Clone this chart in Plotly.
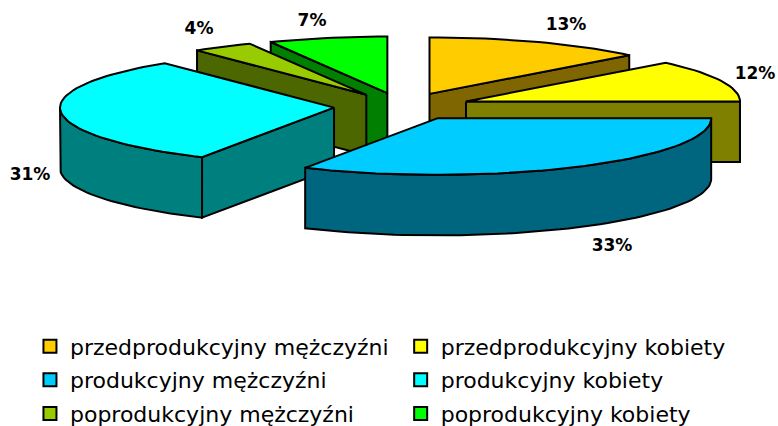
import numpy as np
import plotly.graph_objects as go

# ---- data ----
categories = ["przedprodukcyjny mężczyźni", "przedprodukcyjny kobiety",
              "produkcyjny mężczyźni", "produkcyjny kobiety",
              "poprodukcyjny mężczyźni", "poprodukcyjny kobiety"]
shares = [13, 12, 33, 31.4, 3.6, 7]
colors = ["#FFCC00", "#FFFF00", "#00CCFF", "#00FFFF", "#99CC00", "#00FF00"]

# ---- layout constants (pixel space of the hidden axes) ----
CX, CY = 402.3, 106.5
RX, RY = 274.0, 56.5
EXPLODE = 0.25
DEPTH = 60.5
LABEL_X = [566, 755, 612, 30, 199, 312]
LABEL_Y = [26, 75, 247, 176, 30, 22]
DRAW_ORDER = [0, 5, 4, 1, 3, 2]


def darker(hex_color):
    r, g, b = (int(hex_color[i:i + 2], 16) for i in (1, 3, 5))
    return f"rgb({r // 2},{g // 2},{b // 2})"


def point(apex, deg):
    a = np.radians(deg)
    return apex[0] + RX * np.sin(a), apex[1] - RY * np.cos(a)


def arc(apex, d0, d1):
    degs = np.linspace(d0, d1, max(2, int(abs(d1 - d0) / 2) + 2))
    return point(apex, degs)


def add_poly(fig, xs, ys, fill):
    fig.add_trace(go.Scatter(x=list(xs) + [xs[0]], y=list(ys) + [ys[0]], mode="lines",
                             fill="toself", fillcolor=fill,
                             line=dict(color="black", width=2), showlegend=False,
                             hoverinfo="skip"))


fig = go.Figure()
total = sum(shares)
ends = np.cumsum(shares) / total * 360
starts = ends - np.array(shares) / total * 360

for i in DRAW_ORDER:
    s, e = starts[i], ends[i]
    m = np.radians((s + e) / 2)
    apex = (CX + EXPLODE * RX * np.sin(m), CY - EXPLODE * 55.0 * np.cos(m))
    side = darker(colors[i])
    if np.sin(np.radians(e)) > 1e-9:       # clockwise radial face visible
        x1, y1 = point(apex, e)
        add_poly(fig, [apex[0], x1, x1, apex[0]],
                 [apex[1], y1, y1 + DEPTH, apex[1] + DEPTH], side)
    if np.sin(np.radians(s)) < -1e-9:      # counter-clockwise radial face visible
        x1, y1 = point(apex, s)
        add_poly(fig, [apex[0], x1, x1, apex[0]],
                 [apex[1], y1, y1 + DEPTH, apex[1] + DEPTH], side)
    lo, hi = max(s, 90), min(e, 270)
    if hi > lo:                            # front rim
        ax, ay = arc(apex, lo, hi)
        add_poly(fig, list(ax) + list(ax[::-1]),
                 list(ay) + list(ay[::-1] + DEPTH), side)
    ax, ay = arc(apex, s, e)
    add_poly(fig, [apex[0]] + list(ax), [apex[1]] + list(ay), colors[i])

fig.add_trace(go.Scatter(x=LABEL_X, y=LABEL_Y, mode="text",
                         text=[f"{v:.0f}%" for v in shares],
                         textfont=dict(family="DejaVu Sans", size=17, color="black", weight="bold"),
                         showlegend=False, hoverinfo="skip", cliponaxis=False))

for i, (name, col) in enumerate(zip(categories, colors)):
    fig.add_trace(go.Scatter(x=[None], y=[None], mode="markers", name=name,
                             legendgroup=name, legend="legend" if i % 2 == 0 else "legend2",
                             marker=dict(symbol="square", size=13, color=col,
                                         line=dict(color="black", width=2))))

legend_common = dict(orientation="v", bgcolor="rgba(0,0,0,0)", tracegroupgap=2,
                     yanchor="top", xanchor="left", y=0.236, itemclick=False,
                     font=dict(family="DejaVu Sans", size=22, color="black"))
fig.update_layout(
    width=778, height=426, margin=dict(l=0, r=0, t=0, b=0, autoexpand=False),
    paper_bgcolor="white", plot_bgcolor="white",
    xaxis=dict(range=[0, 778], visible=False, fixedrange=True),
    yaxis=dict(range=[426, 0], visible=False, fixedrange=True),
    legend=dict(x=0.0385, **legend_common),
    legend2=dict(x=0.515, **legend_common),
)
fig.write_html("out.html", config=dict(displayModeBar=False),
               post_script="document.body.style.margin='0';")
